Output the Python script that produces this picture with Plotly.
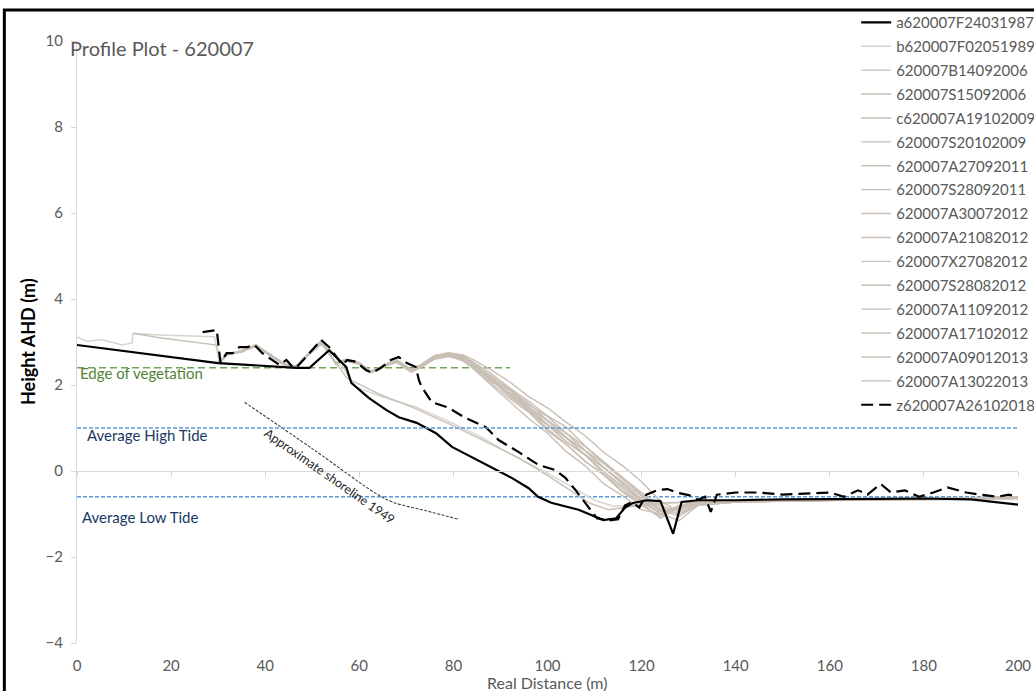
import plotly.graph_objects as go

# ---------------- survey data: distance (m) vs height AHD (m) ----------------
DIST_1987 = [0, 30, 46.6, 49.4, 53.6, 55.1, 57.2, 58.3, 62, 65.7, 68.4, 72.2, 76.3, 79.7, 86, 92.4,
             96, 98, 100.8, 106.6, 111.9, 114.6, 116.5, 118, 121, 124, 126.7, 128.5, 132, 140,
             150, 160, 170, 180, 190, 200]
H_1987 = [2.93, 2.51, 2.40, 2.40, 2.81, 2.65, 2.42, 2.05, 1.70, 1.42, 1.25, 1.12, 0.88, 0.56, 0.20, -0.16,
          -0.40, -0.60, -0.74, -0.90, -1.14, -1.10, -0.85, -0.75, -0.68, -0.70, -1.46, -0.72, -0.68, -0.68,
          -0.66, -0.66, -0.65, -0.64, -0.66, -0.78]

DIST_1989 = [0, 2.1, 5.3, 9.5, 11.7, 11.9, 17.6, 29.2, 30.2, 32, 35, 38, 41, 44, 46.5, 49, 52, 55,
             56.4, 59.3, 65, 72, 79.7, 86, 92, 100, 106, 110, 114, 120, 130, 145, 160, 175, 190, 200]
H_1989 = [3.12, 3.02, 3.06, 2.93, 2.98, 3.20, 3.16, 3.12, 2.55, 2.72, 2.78, 2.92, 2.72, 2.47, 2.42, 2.70, 3.00, 2.50,
          2.42, 1.95, 1.72, 1.49, 1.12, 0.78, 0.40, -0.05, -0.42, -0.68, -0.82, -0.78, -0.72, -0.70, -0.68, -0.68, -0.67, -0.65]

DIST_A2009 = [11.9, 17.6, 29.7, 30.5, 32, 35, 38, 41, 44, 46.5, 49, 52, 55, 57.4, 64, 72, 80, 87.5,
              94, 100, 105, 109, 113, 118, 125, 140, 160, 180, 200]
H_A2009 = [3.20, 3.10, 2.93, 2.52, 2.70, 2.80, 2.90, 2.70, 2.50, 2.40, 2.68, 2.95, 2.52, 2.16, 1.80, 1.45, 1.05, 0.65,
           0.30, -0.10, -0.45, -0.75, -0.90, -0.82, -0.74, -0.70, -0.68, -0.66, -0.64]

# distance stations shared by the 2006-2013 surveys
DIST_MOD = [30, 32, 35, 38, 41, 44, 46.5, 49, 52, 55, 57, 60, 62.5, 66, 68, 71, 73, 76, 79, 82,
            84, 88, 92, 96, 100, 104, 108, 112, 116, 120, 124, 128, 132, 140, 150, 160, 170, 180, 190, 200]

H_B14092006 = [2.52, 2.72, 2.78, 2.92, 2.70, 2.48, 2.42, 2.70, 3.02, 2.50, 2.58, 2.50, 2.30, 2.48, 2.55, 2.33, 2.42, 2.63, 2.70, 2.62,
               2.40, 2.00, 1.62, 1.22, 0.88, 0.45, 0.12, -0.30, -0.58, -0.90, -1.00, -0.80, -0.72, -0.70, -0.68, -0.66, -0.66, -0.65, -0.66, -0.60]
H_S15092006 = [2.55, 2.70, 2.80, 2.90, 2.72, 2.50, 2.40, 2.68, 3.00, 2.52, 2.56, 2.48, 2.32, 2.46, 2.52, 2.30, 2.40, 2.60, 2.66, 2.58,
               2.45, 2.12, 1.72, 1.42, 0.98, 0.62, 0.22, -0.08, -0.47, -0.75, -1.10, -0.85, -0.75, -0.72, -0.70, -0.68, -0.66, -0.65, -0.64, -0.62]
H_S20102009 = [2.50, 2.74, 2.76, 2.94, 2.68, 2.46, 2.44, 2.72, 3.04, 2.48, 2.60, 2.52, 2.28, 2.50, 2.57, 2.35, 2.45, 2.66, 2.72, 2.65,
               2.50, 2.18, 1.88, 1.48, 1.17, 0.78, 0.47, 0.08, -0.30, -0.65, -1.00, -1.15, -0.80, -0.72, -0.70, -0.68, -0.66, -0.66, -0.65, -0.62]
H_A27092011 = [2.53, 2.71, 2.79, 2.91, 2.71, 2.49, 2.43, 2.69, 3.01, 2.51, 2.57, 2.51, 2.31, 2.49, 2.56, 2.34, 2.43, 2.64, 2.69, 2.60,
               2.45, 2.08, 1.82, 1.43, 1.07, 0.68, 0.37, -0.02, -0.35, -0.70, -0.95, -0.85, -0.72, -0.70, -0.68, -0.66, -0.65, -0.64, -0.63, -0.60]
H_S28092011 = [2.51, 2.73, 2.77, 2.93, 2.69, 2.47, 2.41, 2.71, 3.03, 2.49, 2.59, 2.49, 2.29, 2.47, 2.54, 2.32, 2.41, 2.62, 2.68, 2.56,
               2.40, 2.05, 1.68, 1.37, 0.93, 0.62, 0.23, -0.10, -0.50, -0.80, -1.05, -0.80, -0.72, -0.70, -0.68, -0.67, -0.66, -0.65, -0.64, -0.62]
H_A30072012 = [2.54, 2.72, 2.80, 2.93, 2.72, 2.50, 2.43, 2.70, 3.00, 2.52, 2.59, 2.52, 2.31, 2.50, 2.58, 2.36, 2.46, 2.68, 2.74, 2.68,
               2.55, 2.27, 1.93, 1.62, 1.28, 1.02, 0.58, 0.22, -0.15, -0.55, -0.90, -0.90, -0.75, -0.70, -0.68, -0.66, -0.64, -0.63, -0.62, -0.60]
H_A21082012 = [2.52, 2.70, 2.78, 2.90, 2.70, 2.47, 2.42, 2.69, 3.02, 2.50, 2.57, 2.50, 2.30, 2.48, 2.56, 2.34, 2.44, 2.65, 2.71, 2.64,
               2.50, 2.15, 1.78, 1.47, 1.08, 0.77, 0.38, 0.07, -0.30, -0.65, -0.90, -1.05, -0.78, -0.72, -0.70, -0.68, -0.66, -0.65, -0.64, -0.62]
H_X27082012 = [2.53, 2.73, 2.77, 2.92, 2.71, 2.49, 2.41, 2.70, 3.01, 2.51, 2.58, 2.51, 2.29, 2.49, 2.55, 2.33, 2.43, 2.64, 2.70, 2.61,
               2.45, 2.10, 1.77, 1.38, 1.07, 0.68, 0.37, -0.07, -0.40, -0.75, -0.95, -0.82, -0.74, -0.70, -0.68, -0.66, -0.65, -0.64, -0.63, -0.60]
H_S28082012 = [2.51, 2.71, 2.79, 2.91, 2.69, 2.48, 2.43, 2.71, 3.03, 2.49, 2.58, 2.49, 2.30, 2.47, 2.55, 2.33, 2.44, 2.66, 2.73, 2.66,
               2.50, 2.22, 1.88, 1.57, 1.18, 0.87, 0.48, 0.17, -0.20, -0.55, -0.85, -1.00, -0.80, -0.72, -0.70, -0.68, -0.66, -0.65, -0.64, -0.62]
H_A11092012 = [2.52, 2.72, 2.78, 2.93, 2.70, 2.48, 2.42, 2.70, 3.02, 2.51, 2.58, 2.50, 2.31, 2.48, 2.56, 2.35, 2.45, 2.67, 2.73, 2.67,
               2.55, 2.18, 1.92, 1.53, 1.27, 0.88, 0.57, 0.18, -0.15, -0.50, -0.80, -0.95, -0.78, -0.72, -0.70, -0.68, -0.66, -0.65, -0.64, -0.62]
H_A17102012 = [2.53, 2.72, 2.79, 2.92, 2.71, 2.49, 2.42, 2.70, 3.01, 2.50, 2.59, 2.51, 2.30, 2.49, 2.57, 2.36, 2.47, 2.69, 2.75, 2.70,
               2.60, 2.35, 2.07, 1.73, 1.47, 1.13, 0.82, 0.43, 0.12, -0.25, -0.70, -0.95, -0.80, -0.72, -0.70, -0.68, -0.67, -0.65, -0.64, -0.60]
H_A09012013 = [2.52, 2.71, 2.78, 2.91, 2.70, 2.48, 2.42, 2.69, 3.02, 2.50, 2.58, 2.50, 2.30, 2.48, 2.55, 2.34, 2.44, 2.65, 2.71, 2.63,
               2.50, 2.13, 1.87, 1.48, 1.17, 0.78, 0.47, 0.08, -0.25, -0.60, -0.92, -0.88, -0.76, -0.72, -0.70, -0.68, -0.66, -0.65, -0.64, -0.62]
H_A13022013 = [2.51, 2.72, 2.77, 2.92, 2.69, 2.47, 2.41, 2.70, 3.02, 2.49, 2.57, 2.49, 2.29, 2.47, 2.54, 2.32, 2.42, 2.63, 2.69, 2.60,
               2.45, 2.12, 1.78, 1.47, 1.08, 0.77, 0.38, 0.07, -0.30, -0.70, -1.00, -0.85, -0.75, -0.70, -0.68, -0.66, -0.65, -0.64, -0.63, -0.60]

DIST_2018 = [26.7, 29.7, 30.5, 31.8, 33.1, 34.5, 36.2, 37.7, 39.4, 40.9, 43.0, 44.5, 45.8, 46.6, 51.9, 53.6,
             55.1, 56.4, 57.4, 59.3, 61.4, 62.7, 64.6, 66.7, 68.4, 70.1, 72.0, 72.7, 73.3, 75.4, 79.0,
             82.6, 86.9, 89.6, 93.9, 98.1, 101.7, 103.8, 106, 108, 110.5, 113, 115, 116.5, 118, 119.5,
             121, 123.5, 125.5, 127.8, 130, 132, 133.5, 134.7, 136, 140, 145, 150, 155, 160, 163, 166,
             168, 170.8, 173, 176, 179, 182, 185, 189, 192, 195.6, 198, 200]
H_2018 = [3.23, 3.28, 2.52, 2.74, 2.74, 2.88, 2.88, 2.93, 2.74, 2.63, 2.47, 2.58, 2.42, 2.40, 3.05, 2.88,
          2.65, 2.47, 2.58, 2.54, 2.35, 2.28, 2.40, 2.58, 2.65, 2.51, 2.42, 2.10, 1.95, 1.60, 1.47,
          1.23, 1.02, 0.72, 0.44, 0.14, 0.02, -0.16, -0.45, -0.75, -1.10, -1.15, -1.12, -0.80, -0.72, -0.85,
          -0.55, -0.44, -0.42, -0.51, -0.56, -0.67, -0.60, -0.95, -0.55, -0.50, -0.50, -0.55, -0.52, -0.50, -0.60, -0.45,
          -0.55, -0.30, -0.50, -0.45, -0.60, -0.50, -0.38, -0.50, -0.55, -0.60, -0.55, -0.60]

# reference levels and features
EDGE_VEG_X = [0, 92]
EDGE_VEG_H = [2.4, 2.4]
HIGH_TIDE_X = [0, 200]
HIGH_TIDE_H = [1.0, 1.0]
LOW_TIDE_X = [0, 200]
LOW_TIDE_H = [-0.6, -0.6]
SHORE_1949_X = [35.6, 50, 63.5, 67, 74, 81]
SHORE_1949_H = [1.6, 0.52, -0.52, -0.72, -0.92, -1.12]

X_TICKS = [0, 20, 40, 60, 80, 100, 120, 140, 160, 180, 200]
Y_TICKS = [-4, -2, 0, 2, 4, 6, 8, 10]

BLACK = "#000000"
TAN = "rgb(201,191,181)"
TAN_LIGHT = "rgb(216,212,206)"
TEXT_GREY = "#595959"
AXIS_GREY = "#D9D9D9"
FONT = "Lato, 'Open Sans', sans-serif"

# (legend name, distances, heights, colour, width, dash)
profiles = [
    ("a620007F24031987", DIST_1987, H_1987, BLACK, 2.2, "solid"),
    ("b620007F02051989", DIST_1989, H_1989, TAN_LIGHT, 1.5, "solid"),
    ("620007B14092006", DIST_MOD, H_B14092006, TAN, 1.4, "solid"),
    ("620007S15092006", DIST_MOD, H_S15092006, TAN, 1.4, "solid"),
    ("c620007A19102009", DIST_A2009, H_A2009, TAN, 1.4, "solid"),
    ("620007S20102009", DIST_MOD, H_S20102009, TAN, 1.4, "solid"),
    ("620007A27092011", DIST_MOD, H_A27092011, TAN, 1.4, "solid"),
    ("620007S28092011", DIST_MOD, H_S28092011, TAN, 1.4, "solid"),
    ("620007A30072012", DIST_MOD, H_A30072012, TAN, 1.4, "solid"),
    ("620007A21082012", DIST_MOD, H_A21082012, TAN, 1.4, "solid"),
    ("620007X27082012", DIST_MOD, H_X27082012, TAN, 1.4, "solid"),
    ("620007S28082012", DIST_MOD, H_S28082012, TAN, 1.4, "solid"),
    ("620007A11092012", DIST_MOD, H_A11092012, TAN, 1.4, "solid"),
    ("620007A17102012", DIST_MOD, H_A17102012, TAN, 1.4, "solid"),
    ("620007A09012013", DIST_MOD, H_A09012013, TAN, 1.4, "solid"),
    ("620007A13022013", DIST_MOD, H_A13022013, TAN, 1.4, "solid"),
    ("z620007A26102018", DIST_2018, H_2018, BLACK, 2.2, "12px,6px"),
]

fig = go.Figure()

# reference lines (not in legend)
fig.add_trace(go.Scatter(x=HIGH_TIDE_X, y=HIGH_TIDE_H, mode="lines", showlegend=False, hoverinfo="skip",
                         line=dict(color="rgb(91,155,213)", width=1.5, dash="4px,2px"), xaxis="x2"))
fig.add_trace(go.Scatter(x=LOW_TIDE_X, y=LOW_TIDE_H, mode="lines", showlegend=False, hoverinfo="skip",
                         line=dict(color="rgb(91,155,213)", width=1.5, dash="4px,2px")))
fig.add_trace(go.Scatter(x=EDGE_VEG_X, y=EDGE_VEG_H, mode="lines", showlegend=False, hoverinfo="skip",
                         line=dict(color="rgb(112,163,84)", width=1.5, dash="7px,4px")))
fig.add_trace(go.Scatter(x=SHORE_1949_X, y=SHORE_1949_H, mode="lines", showlegend=False, hoverinfo="skip",
                         line=dict(color="#404040", width=1.1, dash="3px,1.5px"), line_shape="spline"))

# grey surveys first so the black profiles sit on top; legend order follows legendrank
order = list(range(1, 16)) + [0, 16]
for i in order:
    name, xs, ys, col, w, dash = profiles[i]
    fig.add_trace(go.Scatter(
        x=xs, y=ys, mode="lines", name=name, legendrank=i + 1, legendgroup=name,
        line=dict(color=col, width=w, dash=dash),
    ))

lab_font = dict(family=FONT, size=15)
annotations = [
    dict(x=0.2, y=2.28, xref="x", yref="y", text="Edge of vegetation", showarrow=False,
         xanchor="left", yanchor="middle", font=dict(lab_font, color="rgb(84,130,53)")),
    dict(x=1.7, y=0.84, xref="x", yref="y", text="Average High Tide", showarrow=False,
         xanchor="left", yanchor="middle", font=dict(lab_font, color="#203864")),
    dict(x=0.6, y=-1.07, xref="x", yref="y", text="Average Low Tide", showarrow=False,
         xanchor="left", yanchor="middle", font=dict(lab_font, color="#203864")),
    dict(x=53.8, y=-0.12, xref="x", yref="y", text="Approximate shoreline 1949", showarrow=False,
         textangle=35, font=dict(family=FONT, size=12.5, color="#262626")),
    dict(x=-0.0095, y=0.988, xref="paper", yref="paper", text="Profile Plot - 620007", showarrow=False,
         xanchor="left", yanchor="middle", font=dict(family=FONT, size=20, color=TEXT_GREY)),
    dict(x=0.5, y=-0.066, xref="paper", yref="paper", text="Real Distance (m)", showarrow=False,
         xanchor="center", yanchor="middle", font=dict(family=FONT, size=16, color=TEXT_GREY)),
    dict(x=-0.052, y=0.5, xref="paper", yref="paper", text="<b>Height AHD (m)</b>", showarrow=False,
         textangle=-90, xanchor="center", yanchor="middle", font=dict(family=FONT, size=18, color=BLACK)),
]

fig.update_layout(
    width=1034, height=691,
    margin=dict(l=77, r=16, t=41, b=48, autoexpand=False),
    paper_bgcolor="white", plot_bgcolor="white",
    font=dict(family=FONT, color=TEXT_GREY),
    showlegend=True,
    legend=dict(x=0.828, y=1.058, xanchor="left", yanchor="top", bgcolor="rgba(0,0,0,0)",
                font=dict(family=FONT, size=15, color=TEXT_GREY), tracegroupgap=1.4,
                traceorder="grouped", maxheight=650),
    xaxis=dict(range=[0, 200], tickvals=X_TICKS, showline=False, ticks="", showgrid=False,
               zeroline=False, tickfont=dict(family=FONT, size=15, color=TEXT_GREY),
               ticklabelstandoff=12, automargin=False, ticklabeloverflow="allow"),
    xaxis2=dict(range=[0, 200], tickvals=X_TICKS, overlaying="x", anchor="free", position=4 / 14,
                side="bottom", showline=True, linecolor=AXIS_GREY, linewidth=1, ticks="outside",
                ticklen=5, tickcolor=AXIS_GREY, showticklabels=False, showgrid=False, zeroline=False),
    yaxis=dict(range=[-4, 10], tickvals=Y_TICKS, showline=True, linecolor=AXIS_GREY, linewidth=1,
               ticks="outside", ticklen=5, tickcolor=AXIS_GREY, showgrid=False, zeroline=False,
               tickfont=dict(family=FONT, size=15, color=TEXT_GREY), ticklabelstandoff=5,
               automargin=False, ticklabeloverflow="allow"),
    annotations=annotations,
    shapes=[dict(type="rect", xref="paper", yref="paper", x0=-0.0772, y0=1.0515, x1=1.2, y1=-0.3,
                 line=dict(color=BLACK, width=3), layer="above")],
)

fig.write_html("out.html")
